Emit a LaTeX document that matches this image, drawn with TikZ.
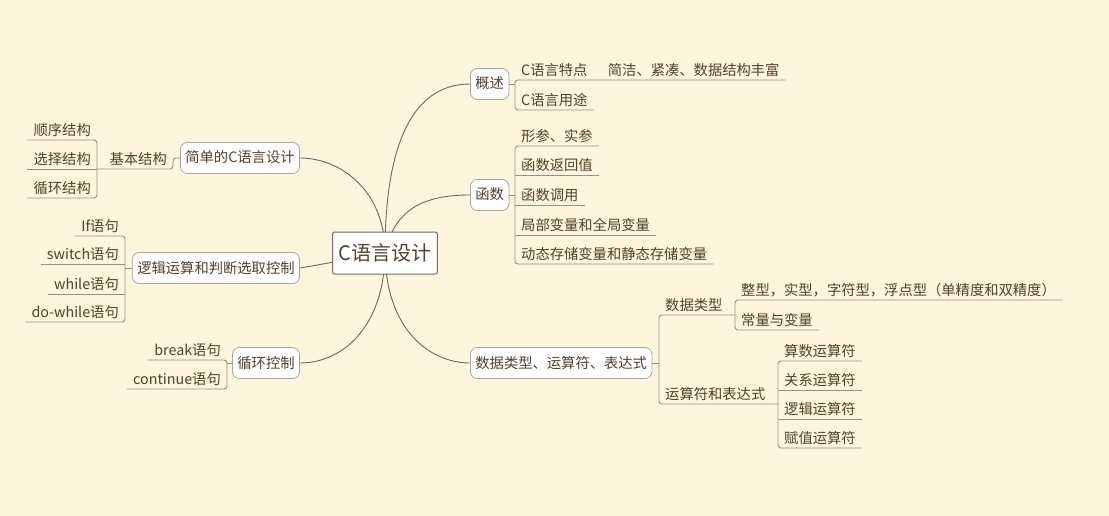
\documentclass[tikz,border=0pt]{standalone}
\usepackage{fontspec}
\setmainfont{Noto Sans CJK SC}
\usetikzlibrary{calc}
\definecolor{bgc}{RGB}{253,245,221}
\definecolor{txt}{RGB}{84,64,44}
\definecolor{bord}{RGB}{170,168,160}
\definecolor{rootb}{RGB}{110,110,110}
\definecolor{linec}{RGB}{150,144,132}
\definecolor{curvec}{RGB}{105,105,105}
\pgfdeclarelayer{back}
\pgfdeclarelayer{bg}
\pgfsetlayers{back,bg,main}
\begin{document}
\begin{tikzpicture}[x=1pt,y=-1pt,
  topic/.style={draw=bord, fill=white, line width=0.8pt, rounded corners=7pt, text=txt,
    font=\fontsize{14.3}{16}\selectfont, inner xsep=5pt, inner ysep=0pt,
    minimum height=31pt, text height=12pt, text depth=2pt},
  rootnode/.style={draw=rootb, fill=white, line width=1pt, rounded corners=2pt, text=txt,
    font=\fontsize{20}{24}\selectfont, inner xsep=6pt, inner ysep=0pt,
    minimum height=42pt, minimum width=104pt, text height=17pt, text depth=3pt},
  subr/.style={anchor=south west, text=txt, font=\fontsize{14.3}{16}\selectfont,
    inner xsep=6pt, inner ysep=0pt, text height=13pt, text depth=4.3pt},
  subl/.style={subr, anchor=south east},
  ul/.style={draw=linec, line width=0.9pt, rounded corners=3pt},
  curve/.style={draw=curvec, line width=0.9pt}
]
\begin{pgfonlayer}{back}
\fill[bgc] (0,0) rectangle (1109,516);
\end{pgfonlayer}
\useasboundingbox (0,0) rectangle (1109,516);

% root and main topics
\node[rootnode] (root) at (385,253) {C语言设计};
\node[topic, anchor=west] (gaishu) at (470,84) {概述};
\node[topic, anchor=west] (hanshu) at (470,195) {函数};
\node[topic, anchor=west] (shuju) at (470,363) {数据类型、运算符、表达式};
\node[topic, anchor=east] (jiandan) at (300,158) {简单的C语言设计};
\node[topic, anchor=east] (luoji) at (300,268) {逻辑运算和判断选取控制};
\node[topic, anchor=east] (xunhuan) at (300,363) {循环控制};

% curves
\begin{pgfonlayer}{bg}
\draw[curve] (root.center) .. controls (385,130) and (420,84) .. (gaishu.west);
\draw[curve] (root.center) .. controls (395,205) and (430,195) .. (hanshu.west);
\draw[curve] (root.center) .. controls (386,330) and (430,363) .. (shuju.west);
\draw[curve] (root.center) .. controls (385,190) and (340,158) .. (jiandan.east);
\draw[curve] (root.center) .. controls (384,330) and (340,363) .. (xunhuan.east);
\draw[curve] (root.center) -- (luoji.east);
\end{pgfonlayer}

% 概述
\node[subr] (a1) at (515,80) {C语言特点};
\node[subr] (a2) at (515,110) {C语言用途};
\node[subr] (a11) at ([xshift=8pt]a1.south east) {简洁、紧凑、数据结构丰富};
\draw[ul] (gaishu.east) -- (gaishu.east -| a1.south west);
\draw[ul] (a11.south east) -- (a1.south west) -- (a2.south west) -- (a2.south east);

% 函数
\node[subr] (b1) at (515,146) {形参、实参};
\node[subr] (b2) at (515,175) {函数返回值};
\node[subr] (b3) at (515,205) {函数调用};
\node[subr] (b4) at (515,235) {局部变量和全局变量};
\node[subr] (b5) at (515,264) {动态存储变量和静态存储变量};
\draw[ul] (hanshu.east) -- (hanshu.east -| b1.south west);
\draw[ul] (b1.south east) -- (b1.south west) -- (b5.south west) -- (b5.south east);
\draw[ul] (b2.south west) -- (b2.south east);
\draw[ul] (b3.south west) -- (b3.south east);
\draw[ul] (b4.south west) -- (b4.south east);

% 数据类型、运算符、表达式
\node[subr] (c1) at (659,315) {数据类型};
\node[subr] (c2) at (659,404) {运算符和表达式};
\node[subr] (c11) at (735,300) {整型，实型，字符型，浮点型（单精度和双精度）};
\node[subr] (c12) at (735,330) {常量与变量};
\node[subr] (d1) at (778,361) {算数运算符};
\node[subr] (d2) at (778,390) {关系运算符};
\node[subr] (d3) at (778,419) {逻辑运算符};
\node[subr] (d4) at (778,448) {赋值运算符};
\coordinate (jc1) at (c1.south east -| c11.south west);
\coordinate (jc2) at (c2.south east -| d1.south west);
\draw[ul] (shuju.east) -- (shuju.east -| c1.south west);
\draw[ul] (jc1) -- (c1.south west) -- (c2.south west) -- (jc2);
\draw[ul] (c11.south east) -- (c11.south west) -- (c12.south west) -- (c12.south east);
\draw[ul] (d1.south east) -- (d1.south west) -- (d4.south west) -- (d4.south east);
\draw[ul] (d2.south west) -- (d2.south east);
\draw[ul] (d3.south west) -- (d3.south east);

% 简单的C语言设计
\node[subl] (k) at (173,169) {基本结构};
\node[subl] (e1) at (97,140) {顺序结构};
\node[subl] (e2) at (97,169) {选择结构};
\node[subl] (e3) at (97,198) {循环结构};
\draw[ul] (jiandan.west) -| (k.south east) -- (k.south east -| e2.south east);
\draw[ul] (e1.south west) -- (e1.south east) -- (e3.south east) -- (e3.south west);
\draw[ul] (e2.south east) -- (e2.south west);

% 逻辑运算和判断选取控制
\node[subl] (f1) at (125,236) {If语句};
\node[subl] (f2) at (125,264) {switch语句};
\node[subl] (f3) at (125,294) {while语句};
\node[subl] (f4) at (125,322) {do-while语句};
\draw[ul] (luoji.west) -- (luoji.west -| f1.south east);
\draw[ul] (f1.south west) -- (f1.south east) -- (f4.south east) -- (f4.south west);
\draw[ul] (f2.south east) -- (f2.south west);
\draw[ul] (f3.south east) -- (f3.south west);

% 循环控制
\node[subl] (g1) at (227,360) {break语句};
\node[subl] (g2) at (227,389) {continue语句};
\draw[ul] (xunhuan.west) -- (xunhuan.west -| g1.south east);
\draw[ul] (g1.south west) -- (g1.south east) -- (g2.south east) -- (g2.south west);
\end{tikzpicture}
\end{document}
